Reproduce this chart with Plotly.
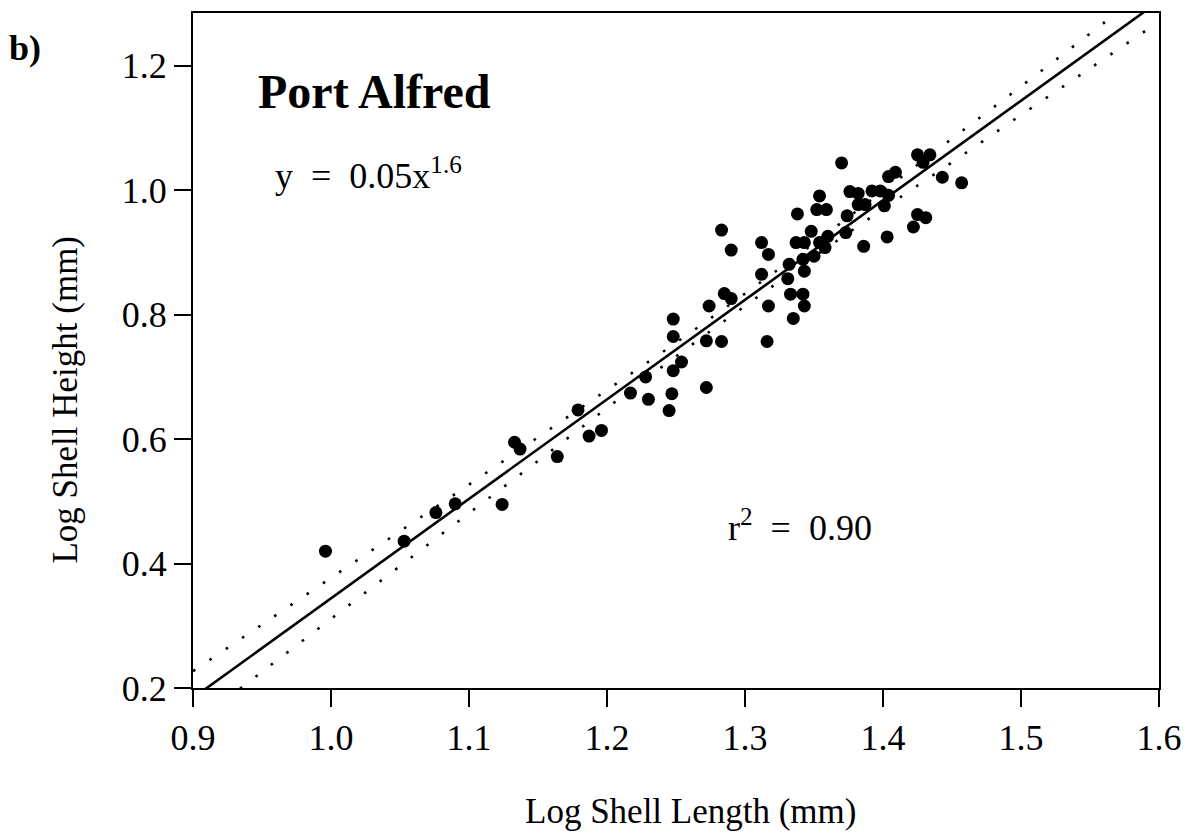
import plotly.graph_objects as go

# Scatter data: log shell length (x) vs log shell height (y)
log_length = [0.996, 1.053, 1.076, 1.090, 1.124, 1.133, 1.137, 1.164, 1.179, 1.187,
              1.196, 1.217, 1.228, 1.230, 1.245, 1.247, 1.248, 1.254, 1.248, 1.248,
              1.272, 1.272, 1.283, 1.274, 1.285, 1.290, 1.283, 1.290, 1.312, 1.317,
              1.312, 1.317, 1.316, 1.331, 1.332, 1.333, 1.335, 1.342, 1.343, 1.343,
              1.342, 1.337, 1.343, 1.338, 1.348, 1.350, 1.354, 1.358, 1.360, 1.352,
              1.359, 1.354, 1.370, 1.373, 1.374, 1.376, 1.382, 1.382, 1.387, 1.386,
              1.392, 1.398, 1.401, 1.404, 1.403, 1.404, 1.409, 1.422, 1.425, 1.431,
              1.425, 1.434, 1.429, 1.443, 1.457]
log_height = [0.420, 0.436, 0.482, 0.496, 0.495, 0.595, 0.584, 0.572, 0.647, 0.605,
              0.614, 0.674, 0.700, 0.664, 0.646, 0.673, 0.710, 0.724, 0.765, 0.793,
              0.683, 0.758, 0.757, 0.814, 0.834, 0.826, 0.936, 0.904, 0.916, 0.897,
              0.865, 0.814, 0.757, 0.858, 0.881, 0.833, 0.794, 0.833, 0.814, 0.870,
              0.889, 0.916, 0.916, 0.962, 0.934, 0.894, 0.916, 0.908, 0.926, 0.969,
              0.969, 0.991, 1.044, 0.932, 0.959, 0.998, 0.995, 0.977, 0.977, 0.910,
              0.999, 0.999, 0.975, 0.992, 0.925, 1.022, 1.029, 0.941, 0.961, 0.956,
              1.057, 1.057, 1.045, 1.021, 1.012]

# Regression line and dotted band
fit_x = [0.90, 0.95, 1.00, 1.05, 1.10, 1.15, 1.20, 1.25, 1.30, 1.35, 1.40, 1.45, 1.50, 1.55, 1.60]
fit_y = [0.184, 0.264, 0.344, 0.424, 0.504, 0.584, 0.664, 0.744, 0.824, 0.904, 0.984, 1.064, 1.144, 1.224, 1.304]
band_upper = [0.227, 0.302, 0.377, 0.452, 0.527, 0.603, 0.679, 0.755, 0.834, 0.915, 0.999, 1.083, 1.167, 1.252, 1.337]
band_lower = [0.141, 0.226, 0.311, 0.396, 0.481, 0.565, 0.650, 0.733, 0.814, 0.893, 0.970, 1.045, 1.121, 1.196, 1.271]

x_ticks = [0.9, 1.0, 1.1, 1.2, 1.3, 1.4, 1.5, 1.6]
y_ticks = [0.2, 0.4, 0.6, 0.8, 1.0, 1.2]

FONT = "Liberation Serif, Times New Roman, serif"

fig = go.Figure()
fig.add_trace(go.Scatter(x=fit_x, y=band_upper, mode="lines",
                         line=dict(color="black", width=2.6, dash="2.6px,17px", shape="spline"),
                         hoverinfo="skip", showlegend=False))
fig.add_trace(go.Scatter(x=fit_x, y=band_lower, mode="lines",
                         line=dict(color="black", width=2.6, dash="2.6px,17px", shape="spline"),
                         hoverinfo="skip", showlegend=False))
fig.add_trace(go.Scatter(x=fit_x, y=fit_y, mode="lines",
                         line=dict(color="black", width=2.6),
                         hoverinfo="skip", showlegend=False))
fig.add_trace(go.Scatter(x=log_length, y=log_height, mode="markers",
                         marker=dict(color="black", size=13, line=dict(width=0)),
                         showlegend=False))

axis_common = dict(showgrid=False, zeroline=False, showline=True, mirror=True,
                   linecolor="black", linewidth=2, ticks="outside", ticklen=17,
                   tickwidth=1.5, tickcolor="black",
                   tickfont=dict(family=FONT, size=36, color="black"))

fig.update_xaxes(range=[0.9, 1.6], tickvals=x_ticks,
                 ticktext=[f"{v:.1f}" for v in x_ticks], **axis_common)
fig.update_yaxes(range=[0.2, 1.285], tickvals=y_ticks,
                 ticktext=[f"{v:.1f}" for v in y_ticks], **axis_common)

annotations = [
    dict(text="<b>Port Alfred</b>", x=0.946, y=1.159, xref="x", yref="y",
         xanchor="left", yanchor="middle", showarrow=False,
         font=dict(family=FONT, size=48, color="black")),
    dict(text="y&nbsp; =&nbsp; 0.05x<sup>1.6</sup>", x=0.958, y=1.027, xref="x", yref="y",
         xanchor="left", yanchor="middle", showarrow=False,
         font=dict(family=FONT, size=36, color="black")),
    dict(text="r<sup>2</sup>&nbsp; =&nbsp; 0.90", x=1.2865, y=0.461, xref="x", yref="y",
         xanchor="left", yanchor="middle", showarrow=False,
         font=dict(family=FONT, size=36, color="black")),
    dict(text="<b>b)</b>", x=-0.1734, y=0.948, xref="paper", yref="paper",
         xanchor="center", yanchor="middle", showarrow=False,
         font=dict(family=FONT, size=36, color="black")),
    dict(text="Log Shell Length (mm)", x=0.515, y=-0.183, xref="paper", yref="paper",
         xanchor="center", yanchor="middle", showarrow=False,
         font=dict(family=FONT, size=35, color="black")),
    dict(text="Log Shell Height (mm)", x=-0.132, y=0.428, xref="paper", yref="paper",
         xanchor="center", yanchor="middle", showarrow=False, textangle=-90,
         font=dict(family=FONT, size=35, color="black")),
]

fig.update_layout(width=1193, height=839, autosize=False,
                  margin=dict(l=193, r=31, t=11, b=151),
                  plot_bgcolor="white", paper_bgcolor="white",
                  annotations=annotations, showlegend=False)

fig.write_html("out.html")
